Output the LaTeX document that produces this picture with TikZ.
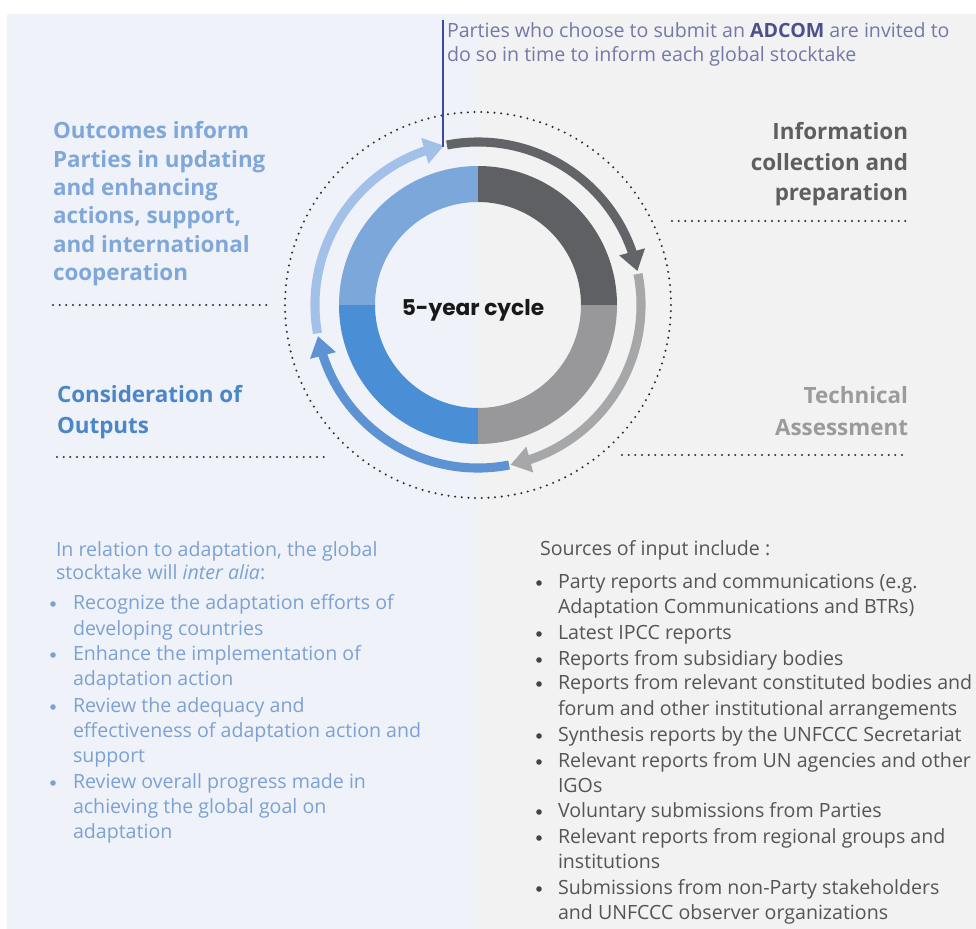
\documentclass[tikz,border=0pt]{standalone}
\usepackage{fontspec}
\setmainfont{Open Sans}
\newfontfamily\poppfont{Poppins}
\usetikzlibrary{arrows.meta,bending,calc}
\definecolor{leftbg}{HTML}{EFF2F9}
\definecolor{rightbg}{HTML}{F2F2F3}
\definecolor{rTL}{HTML}{7BA7DB}
\definecolor{rBL}{HTML}{4A8ED6}
\definecolor{rTR}{HTML}{5F6063}
\definecolor{rBR}{HTML}{98989B}
\definecolor{aDark}{HTML}{636467}
\definecolor{aLight}{HTML}{A6A7A9}
\definecolor{aBlue}{HTML}{5E93D3}
\definecolor{aLBlue}{HTML}{A2C0E8}
\definecolor{dotc}{HTML}{2E2E30}
\definecolor{adline}{HTML}{3C4A9A}
\definecolor{adtext}{HTML}{7378A8}
\definecolor{adbold}{HTML}{4B4F8C}
\definecolor{hOut}{HTML}{80A7D9}
\definecolor{hCons}{HTML}{4B87C8}
\definecolor{hInfo}{HTML}{5E5F61}
\definecolor{hTech}{HTML}{9B9B9D}
\definecolor{lstBlue}{HTML}{7CA1D3}
\definecolor{lstGray}{HTML}{555557}
\tikzset{
  dots/.style={draw=dotc, line width=1.7pt, line cap=round, dash pattern=on 0pt off 5pt},
  cyc/.style={line width=6.8pt, -{Triangle[width=19pt,length=15pt]}},
  txt/.style={inner sep=0pt, outer sep=0pt},
  head/.style={txt, font=\fontsize{16.8}{19}\selectfont\bfseries},
  lst/.style={txt, font=\fontsize{14.7}{17}\selectfont},
  bul/.style={circle, inner sep=0pt, minimum size=4.2pt},
}
\begin{document}
\begin{tikzpicture}[x=0.75pt,y=0.75pt]
\useasboundingbox (0,0) rectangle (976,-929);
\fill[white] (0,0) rectangle (976,-929);
\fill[leftbg] (7,-14) rectangle (478,-929);
\fill[rightbg] (478,-14) rectangle (976,-929);

\coordinate (c) at (478,-305);
% ring
\fill[rTL] ([shift={(c)}]90:104.25pt) arc[start angle=90,end angle=180,radius=104.25pt]
  -- ([shift={(c)}]180:77.25pt) arc[start angle=180,end angle=90,radius=77.25pt] -- cycle;
\fill[rBL] ([shift={(c)}]180:104.25pt) arc[start angle=180,end angle=270,radius=104.25pt]
  -- ([shift={(c)}]270:77.25pt) arc[start angle=270,end angle=180,radius=77.25pt] -- cycle;
\fill[rTR] ([shift={(c)}]0:104.25pt) arc[start angle=0,end angle=90,radius=104.25pt]
  -- ([shift={(c)}]90:77.25pt) arc[start angle=90,end angle=0,radius=77.25pt] -- cycle;
\fill[rBR] ([shift={(c)}]270:104.25pt) arc[start angle=270,end angle=360,radius=104.25pt]
  -- ([shift={(c)}]0:77.25pt) arc[start angle=360,end angle=270,radius=77.25pt] -- cycle;

% dotted circle
\draw[dots] (c) circle[radius=144.75pt];

% cycle arrows
\draw[cyc, aDark] ([shift={(c)}]101:122.25pt) arc[start angle=101,end angle=12,radius=122.25pt];
\draw[cyc, aLight] ([shift={(c)}]11:122.25pt) arc[start angle=11,end angle=-78.5,radius=122.25pt];
\draw[cyc, aBlue] ([shift={(c)}]-79:122.25pt) arc[start angle=-79,end angle=-169,radius=122.25pt];
\draw[cyc, aLBlue] ([shift={(c)}]190:122.25pt) arc[start angle=190,end angle=102,radius=122.25pt];

\node[font=\poppfont\fontsize{16.3}{18}\selectfont\bfseries, text=black!90, anchor=base, txt] (cycle) at (473,-315) {5-year cycle};

% ADCOM line and text
\coordinate (adTop) at (443,-20);
\coordinate (adBot) at (443,-147);
\draw[adline, line width=1.6pt] (adTop) -- (adBot);
\node[lst, text=adtext, anchor=base west] (ad1) at (447,-37) {Parties who choose to submit an \textcolor{adbold}{\bfseries ADCOM} are invited to};
\node[lst, text=adtext, anchor=base west] (ad2) at (447,-61) {do so in time to inform each global stocktake};

% headings
\foreach \yy/\tt [count=\i] in {138/{Outcomes inform},167/{Parties in updating},195/{and enhancing},223/{actions, support,},252/{and international},280/{cooperation}}
  \node[head, text=hOut, anchor=base west] (out\i) at (53,-\yy) {\tt};
\foreach \yy/\tt [count=\i] in {402/{Consideration of},433/{Outputs}}
  \node[head, text=hCons, anchor=base west] (cons\i) at (57,-\yy) {\tt};
\foreach \yy/\tt [count=\i] in {139/{Information},170/{collection and},200/{preparation}}
  \node[head, text=hInfo, anchor=base east] (info\i) at (908,-\yy) {\tt};
\foreach \yy/\tt [count=\i] in {403/{Technical},435/{Assessment}}
  \node[head, text=hTech, anchor=base east] (tech\i) at (908,-\yy) {\tt};

% dotted separators
\coordinate (d1a) at (53,-305); \coordinate (d1b) at (270,-305);
\coordinate (d2a) at (57,-457); \coordinate (d2b) at (328,-457);
\coordinate (d3a) at (672,-221); \coordinate (d3b) at (908,-221);
\coordinate (d4a) at (622,-455); \coordinate (d4b) at (908,-455);
\draw[dots] (d1a) -- (d1b);
\draw[dots] (d2a) -- (d2b);
\draw[dots] (d3a) -- (d3b);
\draw[dots] (d4a) -- (d4b);

% left list
\node[lst, text=lstBlue, anchor=base west] (lh1) at (56,-556) {In relation to adaptation, the global};
\node[lst, text=lstBlue, anchor=base west] (lh2) at (56,-579) {stocktake will \textit{inter alia}:};
\foreach \yy/\tt [count=\i] in {609/{Recognize the adaptation efforts of},635/{developing countries},660/{Enhance the implementation of},685/{adaptation action},712/{Review the adequacy and},737/{effectiveness of adaptation action and},762/{support},788/{Review overall progress made in},813/{achieving the global goal on},838/{adaptation}}
  \node[lst, text=lstBlue, anchor=base west] (ll\i) at (73,-\yy) {\tt};
\foreach \yy [count=\i] in {604,655,707,783}
  \node[bul, fill=lstBlue] (lb\i) at (53,-\yy) {};

% right list
\node[lst, text=lstGray, anchor=base west] (rh) at (540,-555) {Sources of input include :};
\foreach \yy/\tt [count=\i] in {588/{Party reports and communications (e.g.},613/{Adaptation Communications and BTRs)},639/{Latest IPCC reports},665/{Reports from subsidiary bodies},689/{Reports from relevant constituted bodies and},715/{forum and other institutional arrangements},741/{Synthesis reports by the UNFCCC Secretariat},767/{Relevant reports from UN agencies and other},792/{IGOs},817/{Voluntary submissions from Parties},843/{Relevant reports from regional groups and},868/{institutions},894/{Submissions from non-Party stakeholders},919/{and UNFCCC observer organizations}}
  \node[lst, text=lstGray, anchor=base west] (rl\i) at (558,-\yy) {\tt};
\foreach \yy [count=\i] in {583,634,660,684,736,762,812,838,889}
  \node[bul, fill=lstGray!80!black] (rb\i) at (539,-\yy) {};
\end{tikzpicture}
\end{document}
